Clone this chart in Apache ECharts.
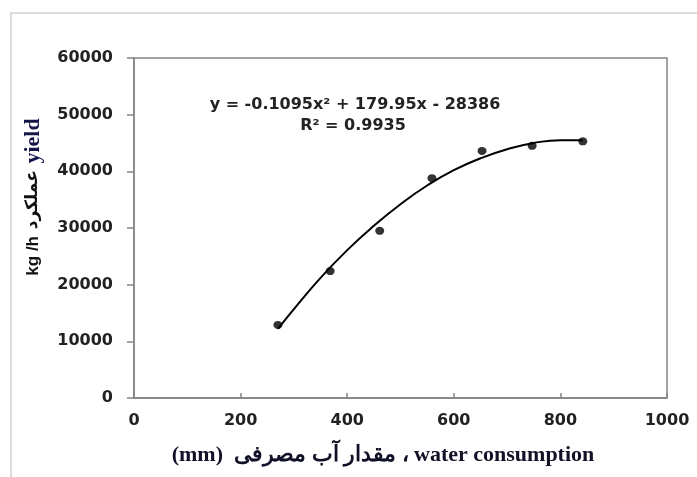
<!DOCTYPE html>
<html>
<head>
<meta charset="utf-8">
<script src="https://cdn.jsdelivr.net/npm/echarts@6/dist/echarts.min.js"></script>
<style>
  html, body { margin: 0; padding: 0; background: #fff; }
  #yield-chart { width: 697px; height: 477px; }
</style>
</head>
<body>
<div id="yield-chart"></div>
<script>
// measured points: water consumption (mm) vs yield (kg/h)
const waterUse = [270, 368, 461, 559, 653, 747, 842];
const yieldValues = [12900, 22400, 29500, 38800, 43600, 44500, 45300];

// trend line
const trendX = [270, 300, 350, 400, 450, 500, 550, 600, 650, 700, 750, 800, 842];
const trendY = [12200, 15700, 21200, 26100, 30400, 34200, 37500, 40200, 42300, 43900, 45000, 45500, 45500];

const equationText = "y = -0.1095x² + 179.95x - 28386";
const r2Text = "R² = 0.9935";

const myChart = echarts.init(document.getElementById("yield-chart"));

const labelStyle = {
  color: "#222",
  fontFamily: "DejaVu Sans",
  fontWeight: "bold",
  fontSize: 16,
  formatter: (v) => String(v),
};

const option = {
  animation: false,
  grid: {
    left: 134,
    top: 58,
    right: 30,
    bottom: 79,
    show: true,
    borderColor: "#858585",
    borderWidth: 1.5,
  },
  xAxis: {
    type: "value",
    min: 0,
    max: 1000,
    interval: 200,
    splitLine: { show: false },
    axisLine: { lineStyle: { color: "#858585", width: 1.5 } },
    axisTick: { inside: true, length: 5, lineStyle: { color: "#858585", width: 1.5 } },
    axisLabel: Object.assign({ margin: 15 }, labelStyle),
  },
  yAxis: {
    type: "value",
    min: 0,
    max: 60000,
    interval: 10000,
    splitLine: { show: false },
    axisLine: { show: true, lineStyle: { color: "#858585", width: 1.5 } },
    axisTick: { show: true, length: 7, lineStyle: { color: "#858585", width: 1.5 } },
    axisLabel: Object.assign({ margin: 21 }, labelStyle),
  },
  series: [
    {
      name: "trend",
      type: "line",
      data: trendX.map((x, i) => [x, trendY[i]]),
      smooth: true,
      symbol: "none",
      lineStyle: { color: "#000", width: 2 },
      z: 2,
    },
    {
      name: "yield",
      type: "scatter",
      data: waterUse.map((x, i) => [x, yieldValues[i]]),
      symbol: "circle",
      symbolSize: [9, 8],
      itemStyle: { color: "#000" },
      z: 3,
    },
  ],
  graphic: [
    {
      type: "rect",
      shape: { x: 11, y: 13, width: 700, height: 480 },
      style: { fill: "none", stroke: "#dcdcdc", lineWidth: 2 },
      silent: true,
    },
    {
      type: "text",
      x: 355,
      y: 105,
      style: {
        text: equationText,
        align: "center",
        verticalAlign: "middle",
        font: "bold 16px 'DejaVu Sans'",
        fill: "#222",
      },
    },
    {
      type: "text",
      x: 353,
      y: 126,
      style: {
        text: r2Text,
        align: "center",
        verticalAlign: "middle",
        font: "bold 16px 'DejaVu Sans'",
        fill: "#222",
      },
    },
    {
      type: "text",
      x: 383,
      y: 455,
      style: {
        text: "(mm)  مقدار آب مصرفی ، water consumption",
        align: "center",
        verticalAlign: "middle",
        font: "bold 22px 'Liberation Serif'",
        fill: "#111128",
      },
    },
    {
      type: "text",
      x: 33,
      y: 197,
      rotation: Math.PI / 2,
      style: {
        text: "{a|kg /h}  {b|عملکرد}  {c|yield}",
        align: "center",
        verticalAlign: "middle",
        rich: {
          a: { font: "bold 17px 'Liberation Sans'", fill: "#111" },
          b: { font: "bold 17px 'DejaVu Sans'", fill: "#111" },
          c: { font: "bold 22px 'Liberation Serif'", fill: "#15154a" },
        },
      },
    },
  ],
};

myChart.setOption(option);
</script>
</body>
</html>
